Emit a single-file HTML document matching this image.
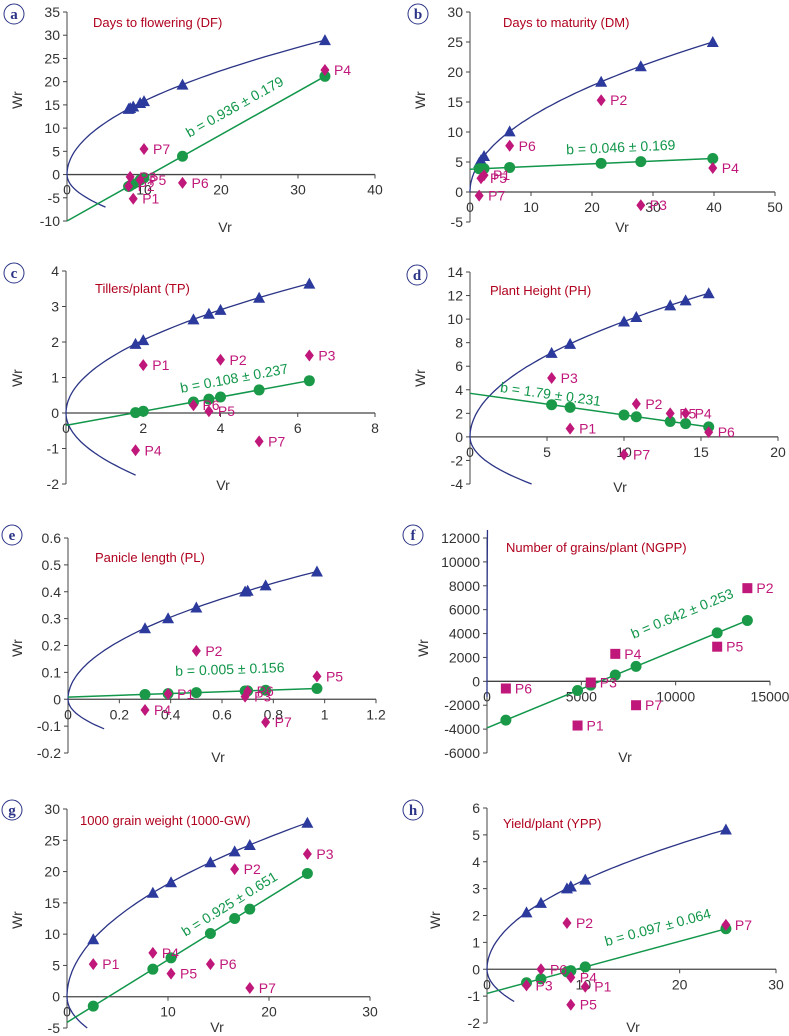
<!DOCTYPE html>
<html><head><meta charset="utf-8">
<style>
html,body{margin:0;padding:0;background:#fff;}
svg{display:block;font-family:"Liberation Sans",sans-serif;}
</style></head>
<body>
<svg id="fig" width="789" height="1036" viewBox="0 0 789 1036"></svg>
<script>
// ---- data (Vr, Wr of parents P1..P7), regression, limiting parabola ----
const parentLabels = ["P1","P2","P3","P4","P5","P6","P7"];
const aVr = [8.6, 8.0, 8.2, 33.5, 9.5, 15, 10];
const aWr = [-5.2, -2.5, -0.5, 22.5, -1.2, -1.8, 5.5];
const bVr = [2.3, 21.5, 28, 39.8, 1.8, 6.5, 1.5];
const bWr = [2.8, 15.3, -2.2, 4.0, 2.3, 7.7, -0.6];
const cVr = [2.0, 4.0, 6.3, 1.8, 3.7, 3.3, 5.0];
const cWr = [1.35, 1.5, 1.62, -1.05, 0.05, 0.22, -0.8];
const dVr = [6.5, 10.8, 5.3, 14, 13, 15.5, 10];
const dWr = [0.7, 2.8, 5.0, 2.0, 2.0, 0.4, -1.5];
const eVr = [0.39, 0.5, 0.69, 0.3, 0.97, 0.7, 0.77];
const eWr = [0.02, 0.18, 0.01, -0.04, 0.085, 0.03, -0.085];
const fVr = [4800, 13800, 5500, 6800, 12200, 1000, 7900];
const fWr = [-3700, 7800, -100, 2300, 2900, -600, -2000];
const gVr = [2.6, 16.6, 23.8, 8.5, 10.3, 14.2, 18.1];
const gWr = [5.2, 20.4, 22.8, 7.0, 3.7, 5.2, 1.4];
const hVr = [10.2, 8.3, 4.1, 8.7, 8.7, 5.6, 24.8];
const hWr = [-0.65, 1.72, -0.6, -0.3, -1.32, 0.0, 1.65];
const slopes = [0.93, 0.045, 0.2, -0.184, 0.033, 0.652, 1.0, 0.097];
const intercepts = [-10, 3.8, -0.35, 3.7, 0.008, -3900, -4.1, -0.9];
const v0r = [25, 15.7, 2.11, 9.6, 0.233, 7250000, 32.5, 1.09];
const v0rLow = [9.8, 15.7, 1.7, 4, 0.086, 1700000, 12.5, 0.51];
const curveMin = [-7, 0, -1.75, -4, -0.11, -1300, -5, -1.2];
const bTexts = ["b = 0.936 ± 0.179","b = 0.046 ± 0.169","b = 0.108 ± 0.237","b = 1.79 ± 0.231","b = 0.005 ± 0.156","b = 0.642 ± 0.253","b = 0.925 ± 0.651","b = 0.097 ± 0.064"];
const titles = ["Days to flowering (DF)","Days to maturity (DM)","Tillers/plant (TP)","Plant Height (PH)","Panicle length (PL)","Number of grains/plant (NGPP)","1000 grain weight (1000-GW)","Yield/plant (YPP)"];
const aXTicks=[0,10,20,30,40], aYTicks=[-10,-5,0,5,10,15,20,25,30,35];
const bXTicks=[0,10,20,30,40,50], bYTicks=[-5,0,5,10,15,20,25,30];
const cXTicks=[0,2,4,6,8], cYTicks=[-2,-1,0,1,2,3,4];
const dXTicks=[0,5,10,15,20], dYTicks=[-4,-2,0,2,4,6,8,10,12,14];
const eXTicks=[0,0.2,0.4,0.6,0.8,1,1.2], eYTicks=[-0.2,-0.1,0,0.1,0.2,0.3,0.4,0.5,0.6];
const fXTicks=[0,5000,10000,15000], fYTicks=[-6000,-4000,-2000,0,2000,4000,6000,8000,10000,12000];
const gXTicks=[0,10,20,30], gYTicks=[-5,0,5,10,15,20,25,30];
const hXTicks=[0,10,20,30], hYTicks=[-2,-1,0,1,2,3,4,5,6];

// ---- layout (pixels) ----
const panels = [
 {L:"a",vr:aVr,wr:aWr,xt:aXTicks,yt:aYTicks,x0:67,x1:375,yT:12,yB:221,sq:false,let:[14,14],tt:[93,27],wrL:[22,100],vrL:[225,232],bt:[237,111]},
 {L:"b",vr:bVr,wr:bWr,xt:bXTicks,yt:bYTicks,x0:470,x1:775,yT:12,yB:222,sq:false,let:[418,14],tt:[503,27],wrL:[425,100],vrL:[622,232],bt:[621,152]},
 {L:"c",vr:cVr,wr:cWr,xt:cXTicks,yt:cYTicks,x0:66,x1:375,yT:271,yB:484,sq:false,let:[14,273],tt:[95,293],wrL:[22,378],vrL:[223,490],bt:[235,383]},
 {L:"d",vr:dVr,wr:dWr,xt:dXTicks,yt:dYTicks,x0:470,x1:778,yT:272,yB:484,sq:false,let:[417,275],tt:[490,295],wrL:[425,378],vrL:[620,492],bt:[550,399]},
 {L:"e",vr:eVr,wr:eWr,xt:eXTicks,yt:eYTicks,x0:68,x1:376,yT:538,yB:753,sq:false,let:[12,535],tt:[95,562],wrL:[22,648],vrL:[218,762],bt:[230,674]},
 {L:"f",vr:fVr,wr:fWr,xt:fXTicks,yt:fYTicks,x0:487,x1:770,yT:538,yB:753,sq:true,let:[413,535],tt:[506,552],wrL:[428,648],vrL:[625,762],bt:[684,618]},
 {L:"g",vr:gVr,wr:gWr,xt:gXTicks,yt:gYTicks,x0:67,x1:370,yT:809,yB:1028,sq:false,let:[12,810],tt:[80,825],wrL:[22,920],vrL:[217,1032],bt:[232,908]},
 {L:"h",vr:hVr,wr:hWr,xt:hXTicks,yt:hYTicks,x0:487,x1:776,yT:808,yB:1023,sq:false,let:[413,810],tt:[503,828],wrL:[440,920],vrL:[633,1032],bt:[659,932]}
];
const NS="http://www.w3.org/2000/svg";
const svg=document.getElementById("fig");
const defs=document.createElementNS(NS,"defs");svg.appendChild(defs);
function mk(tag,attrs,parent){const e=document.createElementNS(NS,tag);for(const k in attrs)e.setAttribute(k,attrs[k]);(parent||svg).appendChild(e);return e;}
function fmt(v){return String(Math.round(v*1000)/1000);}

panels.forEach((p,i)=>{
  const g=mk("g",{});
  
  
  const cp=mk("clipPath",{id:"clip"+p.L},defs);
  mk("rect",{x:p.x0-2,y:p.yT-8,width:p.x1-p.x0+12,height:p.yB-p.yT+12},cp);
  const xs=p.xt, ys=p.yt;
  const xmin=xs[0], xmax=xs[xs.length-1], ymin=ys[0], ymax=ys[ys.length-1];
  const X=v=>p.x0+(v-xmin)/(xmax-xmin)*(p.x1-p.x0);
  const Y=v=>p.yB-(v-ymin)/(ymax-ymin)*(p.yB-p.yT);
  // axes
  const ya=mk("line",{x1:p.x0,y1:p.yT,x2:p.x0,y2:p.yB,stroke:"#444","stroke-width":1},g);
  
  
  const xa=mk("line",{x1:p.x0,y1:Y(0),x2:p.x1,y2:Y(0),stroke:"#444","stroke-width":1.3},g);
  
  
  ys.forEach(v=>{
    mk("line",{x1:p.x0-4,y1:Y(v),x2:p.x0,y2:Y(v),stroke:"#444"},g);
    const t=mk("text",{x:p.x0-7,y:Y(v)+5,"text-anchor":"end","font-size":14,fill:"#333"},g);
    t.textContent=fmt(v);
    
    
  });
  xs.forEach(v=>{
    mk("line",{x1:X(v),y1:Y(0),x2:X(v),y2:Y(0)+4,stroke:"#444"},g);
    const t=mk("text",{x:X(v),y:Y(0)+20,"text-anchor":"middle","font-size":14,fill:"#333"},g);
    t.textContent=fmt(v);
    
    
  });
  const pg=mk("g",{"clip-path":"url(#clip"+p.L+")"},g);
  
  
  // parabola
  let d="";
  const top=Math.sqrt(Math.max(...p.vr)*v0r[i]);
  const N=80;
  for(let k=0;k<=N;k++){
    const y=curveMin[i]+(top-curveMin[i])*k/N;
    const x=y<0? y*y/v0rLow[i] : y*y/v0r[i];
    d+=(k?"L":"M")+X(x).toFixed(1)+","+Y(y).toFixed(1);
  }
  const cv=mk("path",{d:d,fill:"none",stroke:"#2b3486","stroke-width":1.3},pg);
  
  
  // regression line
  const vmax=Math.max(...p.vr);
  const rl=mk("line",{x1:X(0),y1:Y(intercepts[i]),x2:X(vmax),y2:Y(intercepts[i]+slopes[i]*vmax),stroke:"#11964a","stroke-width":1.5},pg);
  
  
  // triangles
  p.vr.forEach(v=>{
    const cx=X(v), cy=Y(Math.sqrt(v*v0r[i]));
    const tr=mk("polygon",{points:`${cx},${cy-6} ${cx-6},${cy+5} ${cx+6},${cy+5}`,fill:"#2b3a9c"},g);
    
    
  });
  // circles
  p.vr.forEach(v=>{
    const c=mk("circle",{cx:X(v),cy:Y(intercepts[i]+slopes[i]*v),r:5.5,fill:"#1a9a48"},g);
    
    
  });
  // parents
  p.vr.forEach((v,j)=>{
    const cx=X(v), cy=Y(p.wr[j]);
    let m;
    if(p.sq) m=mk("rect",{x:cx-5,y:cy-5,width:10,height:10,fill:"#c0187a"},g);
    else m=mk("polygon",{points:`${cx},${cy-6} ${cx+4.5},${cy} ${cx},${cy+6} ${cx-4.5},${cy}`,fill:"#c0187a"},g);
    
    
    const t=mk("text",{x:cx+9,y:cy+5,"font-size":14,fill:"#c0187a"},g);
    t.textContent=parentLabels[j];
    
    
  });
  // regression text
  const ang=Math.atan2(Y(intercepts[i]+slopes[i]*vmax)-Y(intercepts[i]),X(vmax)-X(0))*180/Math.PI;
  const bt=mk("text",{x:p.bt[0],y:p.bt[1],"text-anchor":"middle","font-size":14,fill:"#11964a",transform:`rotate(${ang.toFixed(1)} ${p.bt[0]} ${p.bt[1]})`},g);
  bt.textContent=bTexts[i];
  
  
  // title
  const tt=mk("text",{x:p.tt[0],y:p.tt[1],"font-size":13,fill:"#b0001e"},g);
  tt.textContent=titles[i];
  
  
  // axis titles
  const wl=mk("text",{x:p.wrL[0],y:p.wrL[1],"text-anchor":"middle","font-size":14,fill:"#333",transform:`rotate(-90 ${p.wrL[0]} ${p.wrL[1]})`},g);
  wl.textContent="Wr";
  
  
  const vl=mk("text",{x:p.vrL[0],y:p.vrL[1],"text-anchor":"middle","font-size":14,fill:"#333"},g);
  vl.textContent="Vr";
  
  
  // panel letter
  const lc=mk("circle",{cx:p.let[0],cy:p.let[1],r:10,fill:"#fff",stroke:"#2b3486","stroke-width":1},g);
  
  
  const lt=mk("text",{x:p.let[0],y:p.let[1]+5,"text-anchor":"middle","font-size":15,"font-weight":"bold","font-family":"Liberation Serif, serif",fill:"#2b3486"},g);
  lt.textContent=p.L;
  
  
});
</script>
</body></html>
